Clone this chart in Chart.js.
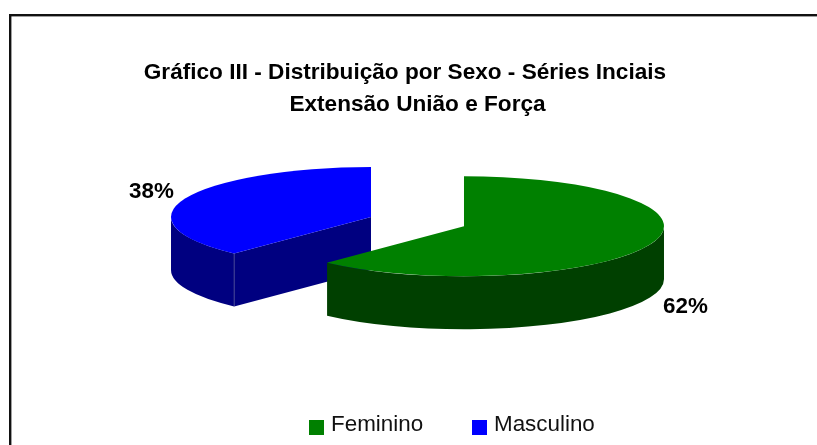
<!DOCTYPE html>
<html>
<head>
<meta charset="utf-8">
<script src="https://cdn.jsdelivr.net/npm/chart.js@4"></script>
<style>
  body { margin: 0; background: #fff; }
</style>
</head>
<body>
<canvas id="grafico" width="817" height="445"></canvas>
<script>
const categories = ['Feminino', 'Masculino'];
const percentages = [62, 38];
const topColors = ['#008000', '#0000ff'];
const sideColors = ['#004000', '#000080'];
const titleLines = ['Gráfico III - Distribuição por Sexo - Séries Inciais    ', 'Extensão União e Força'];

const FONT = '"Liberation Sans", Arial, sans-serif';
const SQUASH = 0.25;  // achatamento da pizza
const DEPTH = 53;     // altura do cilindro em px
const EXPLODE = 50;   // separacao das fatias

// posicoes dos rotulos e da legenda
const labelPos = [[685.5, 307], [151.5, 191.5]];
const legendPos = [309, 472];

const pie3d = {
  id: 'pie3d',
  beforeDatasetsDraw(chart) {
    const ctx = chart.ctx;
    const arcs = chart.getDatasetMeta(0).data;
    // fatia de tras primeiro
    [1, 0].forEach(i => {
      const arc = arcs[i];
      const mid = (arc.startAngle + arc.endAngle) / 2;
      const h = DEPTH / SQUASH;
      ctx.save();
      ctx.translate(arc.x + Math.cos(mid) * EXPLODE, arc.y + Math.sin(mid) * EXPLODE * SQUASH);
      ctx.scale(1, SQUASH);
      ctx.translate(-arc.x, -arc.y);

      ctx.fillStyle = sideColors[i];
      // lateral curva, so a parte da frente aparece
      const lo = Math.max(arc.startAngle, 0);
      const hi = Math.min(arc.endAngle, Math.PI);
      if (hi > lo) {
        ctx.beginPath();
        ctx.arc(arc.x, arc.y, arc.outerRadius, lo, hi);
        ctx.arc(arc.x, arc.y + h, arc.outerRadius, hi, lo, true);
        ctx.closePath();
        ctx.fill();
      }
      // face do corte voltada para a frente
      if (arc.startAngle > 0 && arc.startAngle < Math.PI) {
        const ex = arc.x + Math.cos(arc.startAngle) * arc.outerRadius;
        const ey = arc.y + Math.sin(arc.startAngle) * arc.outerRadius;
        ctx.beginPath();
        ctx.moveTo(arc.x, arc.y);
        ctx.lineTo(ex, ey);
        ctx.lineTo(ex, ey + h);
        ctx.lineTo(arc.x, arc.y + h);
        ctx.closePath();
        ctx.fill();
        ctx.strokeStyle = '#8080a0';
        ctx.lineWidth = 0.7;
        ctx.beginPath();
        ctx.moveTo(ex, ey);
        ctx.lineTo(ex, ey + h);
        ctx.stroke();
      }
      arc.draw(ctx);
      ctx.restore();
    });
    return false;
  },
  afterDraw(chart) {
    const ctx = chart.ctx;
    ctx.save();
    // moldura, sai da imagem a direita e embaixo
    ctx.strokeStyle = '#111';
    ctx.lineWidth = 2.4;
    ctx.strokeRect(10.2, 15.2, 900, 600);

    ctx.fillStyle = '#000';
    ctx.textBaseline = 'middle';
    ctx.textAlign = 'center';
    ctx.font = 'bold 22.4px ' + FONT;
    percentages.forEach((p, i) => {
      ctx.fillText(p + '%', labelPos[i][0], labelPos[i][1]);
    });

    ctx.textAlign = 'left';
    ctx.font = '22.4px ' + FONT;
    categories.forEach((c, i) => {
      ctx.fillStyle = topColors[i];
      ctx.fillRect(legendPos[i], 420, 15, 15);
      ctx.fillStyle = '#111';
      ctx.fillText(c, legendPos[i] + 22, 425);
    });
    ctx.restore();
  }
};

new Chart(document.getElementById('grafico'), {
  type: 'pie',
  data: {
    labels: categories,
    datasets: [{
      data: percentages,
      backgroundColor: topColors,
      borderWidth: 0,
      radius: 200
    }]
  },
  options: {
    responsive: false,
    animation: false,
    events: [],
    layout: { padding: { left: 18, bottom: 123 } },
    plugins: {
      legend: { display: false },
      tooltip: { enabled: false },
      title: {
        display: true,
        text: titleLines,
        color: '#000',
        font: { family: FONT, size: 22.6, weight: 'bold', lineHeight: 1.42 },
        padding: { top: 57, bottom: 0 }
      }
    }
  },
  plugins: [pie3d]
});
</script>
</body>
</html>
